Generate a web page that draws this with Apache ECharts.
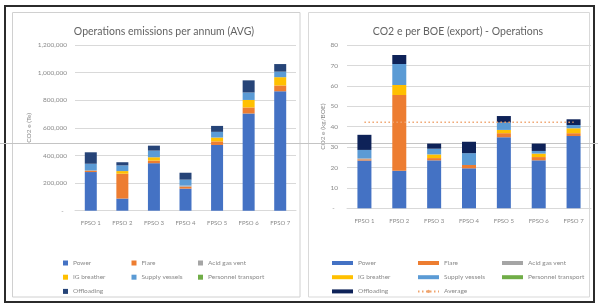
<!DOCTYPE html>
<html>
<head>
<meta charset="utf-8">
<script src="https://cdn.jsdelivr.net/npm/echarts@6/dist/echarts.min.js"></script>
<style>
  html, body { margin: 0; padding: 0; background: #fff; }
  #main { width: 598px; height: 306px; }
</style>
</head>
<body>
<div id="main"></div>
<script>
var categories = ['FPSO 1', 'FPSO 2', 'FPSO 3', 'FPSO 4', 'FPSO 5', 'FPSO 6', 'FPSO 7'];

// left chart: CO2 e (Te) per annum
var powerTe      = [280000, 88000, 344000, 160000, 476000, 704000, 865000];
var flareTe      = [8000, 180000, 19000, 14000, 26000, 44000, 42000];
var acidTe       = [6000, 0, 0, 8000, 0, 0, 0];
var igTe         = [0, 19000, 24000, 0, 28000, 54000, 60000];
var supplyTe     = [46000, 41000, 48000, 43000, 41000, 54000, 40000];
var personnelTe  = [0, 0, 0, 0, 0, 0, 0];
var offloadTe    = [83000, 23000, 36000, 50000, 43000, 88000, 55000];

// right chart: CO2 e (kg/BOE)
var powerKg      = [23.4, 18.4, 23.5, 19.6, 34.8, 23.5, 35.4];
var flareKg      = [0.6, 37.1, 1.1, 1.6, 2.0, 1.6, 1.4];
var acidKg       = [0.5, 0, 0, 0, 0, 0, 0];
var igKg         = [0, 4.9, 1.8, 0, 1.6, 1.7, 2.4];
var supplyKg     = [4.1, 10.3, 2.8, 5.8, 3.6, 1.3, 1.6];
var personnelKg  = [0, 0, 0, 0, 0, 0, 0];
var offloadKg    = [7.4, 4.4, 2.5, 5.6, 3.2, 3.6, 2.8];
var averageKg    = [42.2, 42.2, 42.2, 42.2, 42.2, 42.2, 42.2];

var colors = {
  'Power': '#4472C4',
  'Flare': '#ED7D31',
  'Acid gas vent': '#A5A5A5',
  'IG breather': '#FFC000',
  'Supply vessels': '#5B9BD5',
  'Personnel transport': '#70AD47',
  'Offloading': '#264478'
};
var offloadRight = '#0E2258';
var avgColor = '#EFA46E';

var myChart = echarts.init(document.getElementById('main'));

var font = 'Lato, "Open Sans", sans-serif';
var axisGray = '#8a8a8a';
var gridGray = '#d9d9d9';

function stackBar(name, data, idx, color, width) {
  return {
    name: name,
    type: 'bar',
    stack: idx === 0 ? 'left' : 'right',
    xAxisIndex: idx,
    yAxisIndex: idx,
    barWidth: width,
    itemStyle: { color: color || colors[name] },
    data: data
  };
}

function leftLegend(names, x) {
  return {
    orient: 'vertical',
    left: x,
    top: 253,
    itemWidth: 5,
    itemHeight: 5,
    itemGap: 4.2,
    icon: 'rect',
    textStyle: { fontSize: 6.5, lineHeight: 10, color: axisGray, fontFamily: font },
    data: names.map(function (n) {
      return { name: n, itemStyle: { color: colors[n] } };
    })
  };
}

function rightLegend(names, x) {
  return {
    orient: 'vertical',
    left: x,
    top: 253,
    itemWidth: 21,
    itemHeight: 4,
    itemGap: 4.2,
    textStyle: { fontSize: 6.5, lineHeight: 10, color: axisGray, fontFamily: font },
    data: names.map(function (n) {
      if (n === 'Average') return { name: n };
      var c = n === 'Offloading' ? offloadRight : colors[n];
      return { name: n, icon: 'rect', itemStyle: { color: c } };
    })
  };
}

var option = {
  animation: false,
  textStyle: { fontFamily: font },
  title: [
    {
      text: 'Operations emissions per annum (AVG)',
      left: 159, top: 21, textAlign: 'center',
      textStyle: { fontSize: 10.5, fontWeight: 'normal', color: '#636363', fontFamily: font }
    },
    {
      text: 'CO2 e per BOE (export) - Operations',
      left: 453, top: 21, textAlign: 'center',
      textStyle: { fontSize: 10.5, fontWeight: 'normal', color: '#636363', fontFamily: font }
    }
  ],
  grid: [
    { left: 75, right: 302, top: 45, bottom: 95.3 },
    { left: 347, right: 7, top: 45, bottom: 97.7 }
  ],
  xAxis: [0, 1].map(function (i) {
    return {
      type: 'category',
      gridIndex: i,
      data: categories,
      axisTick: { show: false },
      axisLine: { lineStyle: { color: gridGray } },
      axisLabel: { fontSize: 6, color: axisGray, margin: i === 0 ? 9 : 10 }
    };
  }),
  yAxis: [
    {
      type: 'value', gridIndex: 0, min: 0, max: 1200000, interval: 200000,
      name: 'CO2 e (Te)', nameLocation: 'middle', nameGap: 42.5,
      nameTextStyle: { fontSize: 6.5, color: axisGray },
      axisLine: { show: false }, axisTick: { show: false },
      splitLine: { lineStyle: { color: gridGray } },
      axisLabel: {
        fontSize: 6.5, color: axisGray, margin: 8,
        formatter: function (v) { return v === 0 ? '-  ' : v.toLocaleString('en-US'); }
      }
    },
    {
      type: 'value', gridIndex: 1, min: 0, max: 80, interval: 10,
      name: 'CO2 e (kg/BOE)', nameLocation: 'middle', nameGap: 20,
      nameTextStyle: { fontSize: 6.5, color: axisGray },
      axisLine: { show: false }, axisTick: { show: false },
      splitLine: { lineStyle: { color: gridGray } },
      axisLabel: {
        fontSize: 6.5, color: axisGray, margin: 9,
        formatter: function (v) { return v === 0 ? '-  ' : String(v); }
      }
    }
  ],
  legend: [
    leftLegend(['Power', 'IG breather', 'Offloading'], 58),
    leftLegend(['Flare', 'Supply vessels'], 126.5),
    leftLegend(['Acid gas vent', 'Personnel transport'], 193),
    rightLegend(['Power', 'IG breather', 'Offloading'], 327),
    rightLegend(['Flare', 'Supply vessels', 'Average'], 412),
    rightLegend(['Acid gas vent', 'Personnel transport'], 497)
  ],
  graphic: [
    { type: 'line', z: 1, shape: { x1: 0, y1: 143.5, x2: 598, y2: 143.5 },
      style: { stroke: '#c4c4c4', lineWidth: 1 } },
    { type: 'rect', z: 0, shape: { x: 12.5, y: 12.5, width: 287.5, height: 284.5 },
      style: { fill: 'none', stroke: '#d0d0d0', lineWidth: 1 } },
    { type: 'rect', z: 0, shape: { x: 308.5, y: 12.5, width: 281, height: 284.5 },
      style: { fill: 'none', stroke: '#d9d9d9', lineWidth: 1 } },
    { type: 'rect', z: 0, shape: { x: 5, y: 6, width: 589, height: 296 },
      style: { fill: 'none', stroke: '#2b2b2b', lineWidth: 2 } }
  ],
  series: [
    stackBar('Power', powerTe, 0, null, 12),
    stackBar('Flare', flareTe, 0, null, 12),
    stackBar('Acid gas vent', acidTe, 0, null, 12),
    stackBar('IG breather', igTe, 0, null, 12),
    stackBar('Supply vessels', supplyTe, 0, null, 12),
    stackBar('Personnel transport', personnelTe, 0, null, 12),
    stackBar('Offloading', offloadTe, 0, null, 12),

    stackBar('Power', powerKg, 1, null, 14),
    stackBar('Flare', flareKg, 1, null, 14),
    stackBar('Acid gas vent', acidKg, 1, null, 14),
    stackBar('IG breather', igKg, 1, null, 14),
    stackBar('Supply vessels', supplyKg, 1, null, 14),
    stackBar('Personnel transport', personnelKg, 1, null, 14),
    stackBar('Offloading', offloadKg, 1, offloadRight, 14),
    {
      name: 'Average',
      type: 'line',
      xAxisIndex: 1,
      yAxisIndex: 1,
      symbol: 'none',
      itemStyle: { color: avgColor },
      lineStyle: { color: avgColor, width: 1.5, type: [1.5, 2.5] },
      data: averageKg
    }
  ]
};

option && myChart.setOption(option);
</script>
</body>
</html>
